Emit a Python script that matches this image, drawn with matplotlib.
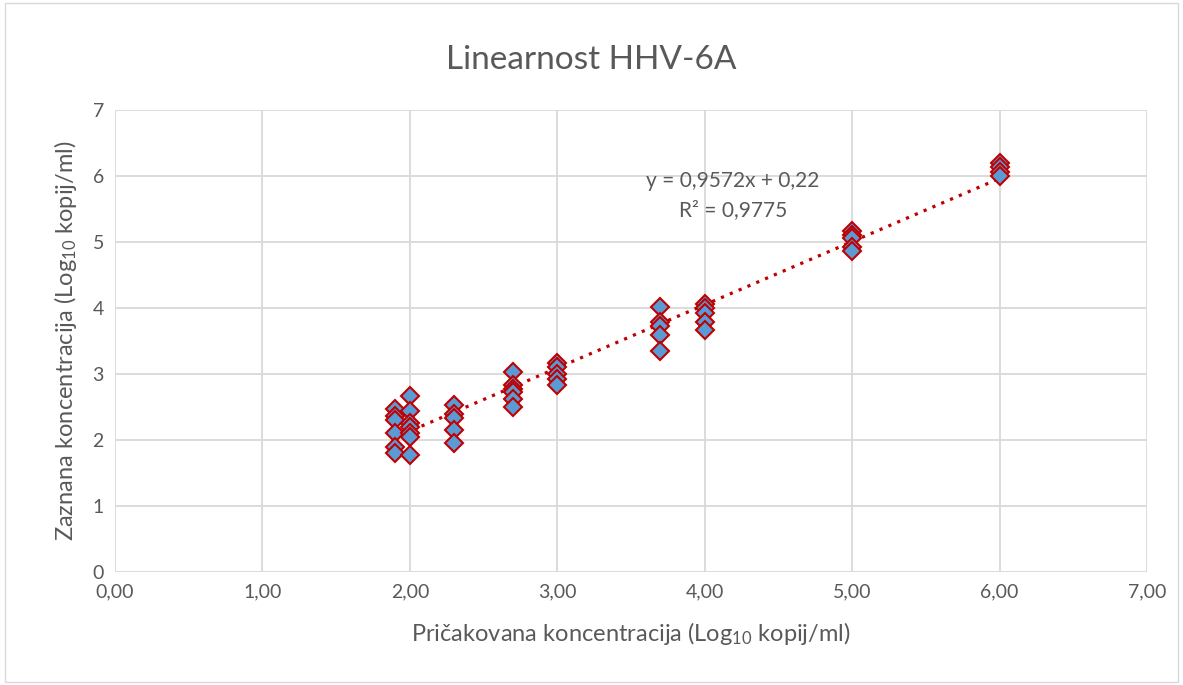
import matplotlib.pyplot as plt
import numpy as np
from matplotlib.patches import Rectangle

plt.rcParams['font.family'] = ['Lato', 'DejaVu Sans']
plt.rcParams['mathtext.fontset'] = 'custom'
plt.rcParams['mathtext.rm'] = 'Lato'
plt.rcParams['mathtext.it'] = 'Lato:italic'

# expected vs. detected concentration (log10 copies/ml)
expected = [1.9] * 6 + [2.0] * 7 + [2.3] * 5 + [2.7] * 6 + [3.0] * 5 \
    + [3.7] * 5 + [4.0] * 5 + [5.0] * 5 + [6.0] * 4
detected = [2.47, 2.37, 2.30, 2.10, 1.90, 1.80,
            2.67, 2.44, 2.26, 2.20, 2.10, 2.05, 1.77,
            2.53, 2.40, 2.33, 2.15, 1.96,
            3.03, 2.83, 2.77, 2.72, 2.62, 2.50,
            3.17, 3.10, 3.00, 2.92, 2.83,
            4.02, 3.79, 3.73, 3.59, 3.35,
            4.06, 4.00, 3.93, 3.79, 3.67,
            5.17, 5.11, 5.06, 4.92, 4.86,
            6.20, 6.13, 6.06, 6.00]

slope, intercept = 0.9572, 0.22
r2 = 0.9775

grey = '#595959'

fig = plt.figure(figsize=(11.83, 6.85), dpi=100)
ax = fig.add_axes([115 / 1183, 1 - 572 / 685, (1147 - 115) / 1183, (572 - 110) / 685])

fig.patches.append(Rectangle((0.004, 0.005), 0.992, 0.99, transform=fig.transFigure,
                             fill=False, edgecolor='#D9D9D9', linewidth=1))

xs = np.array([min(expected), max(expected)])
ax.plot(xs, slope * xs + intercept, linestyle=(0, (1, 2)), color='#C00000',
        linewidth=2.3, zorder=2)
ax.plot(expected, detected, linestyle='none', marker='D', markersize=9,
        markerfacecolor='#5B9BD5', markeredgecolor='#C00000', markeredgewidth=1.5,
        zorder=3)

ax.set_xlim(0, 7)
ax.set_ylim(0, 7)
ax.set_xticks(range(8))
ax.set_xticklabels([f'{i},00' for i in range(8)])
ax.set_yticks(range(8))
ax.grid(True, color='#D9D9D9', linewidth=1.3)
ax.set_axisbelow(True)
for s in ax.spines.values():
    s.set_visible(False)
ax.tick_params(length=0, labelsize=14, colors=grey, pad=8)

ax.text(4.19, 5.92, f'y = {slope:.4f}x + {intercept:.2f}'.replace('.', ','),
        ha='center', va='center', fontsize=15, color=grey)
ax.text(4.19, 5.48, f'R² = {r2:.4f}'.replace('.', ','),
        ha='center', va='center', fontsize=15, color=grey)

ax.set_xlabel('Pričakovana koncentracija (Log$_{10}$ kopij/ml)', fontsize=17,
              color=grey, labelpad=14)
ax.set_ylabel('Zaznana koncentracija (Log$_{10}$ kopij/ml)', fontsize=17,
              color=grey, labelpad=10)
fig.text(0.5, 1 - 60 / 685, 'Linearnost HHV-6A', ha='center', va='center',
         fontsize=24, color=grey)

fig.savefig('out.png', dpi=100)
